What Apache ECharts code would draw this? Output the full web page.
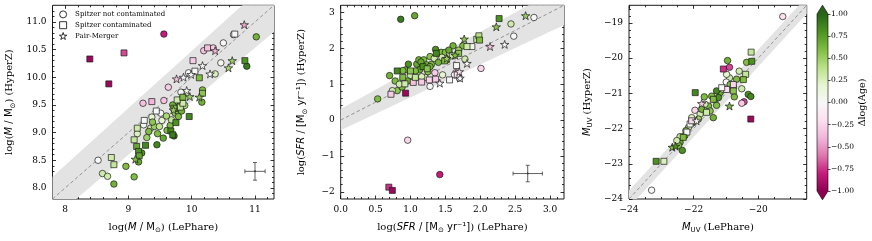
<!DOCTYPE html>
<html><head><meta charset="utf-8">
<script src="https://cdn.jsdelivr.net/npm/echarts@6/dist/echarts.min.js"></script>
<style>html,body{margin:0;padding:0;background:#fff}#c{width:872px;height:241px}</style>
</head><body><div id="c"></div>
<script>
// ---------------- data: [x, y, Δlog(Age)] ----------------
const massCircles = [
[8.52,8.50,0.0],[8.59,8.26,0.3],[8.67,8.21,0.3],[8.77,8.07,0.65],[8.96,8.39,0.6],[9.09,8.20,0.6],[9.16,8.47,0.7],[9.14,8.98,0.25],[9.23,9.53,-0.35],[9.24,9.14,0.05],[9.37,9.28,0.2],[9.35,9.08,0.3],[9.29,8.91,0.5],[9.21,8.63,0.8],[9.45,8.78,0.85],[9.46,8.98,0.6],[9.41,9.11,0.5],[9.49,9.11,0.35],[9.53,9.22,0.2],[9.51,9.35,0.0],[9.56,9.58,-0.35],[9.55,8.90,0.7],[9.61,9.04,0.6],[9.63,9.82,-0.3],[9.66,9.13,0.6],[9.68,9.23,0.35],[9.72,8.94,0.85],[9.74,9.35,0.55],[9.76,9.44,0.6],[9.79,9.29,0.6],[9.82,9.59,0.3],[9.83,9.73,0.0],[9.84,9.39,0.65],[9.89,9.49,0.4],[9.81,9.49,0.7],[9.95,10.08,0.0],[10.16,9.55,0.65],[10.17,9.77,0.6],[10.19,10.48,-0.35],[10.34,10.53,-0.3],[10.37,10.06,0.25],[10.46,10.26,0.05],[10.50,10.62,0.0],[10.66,10.77,0.0],[10.87,10.20,0.9],[11.02,10.73,0.65],[9.56,10.78,-0.8],[9.38,9.19,0.55],[9.32,9.02,0.6],[9.60,9.30,0.45],[9.70,9.50,0.65]
];
const massSquares = [
[8.39,10.33,-0.95],[8.93,10.44,-0.7],[8.69,9.88,-0.95],[8.73,8.55,0.3],[8.77,8.42,0.35],[9.14,9.08,0.3],[9.09,8.87,0.35],[9.13,8.75,0.7],[9.16,8.66,0.8],[9.17,8.58,0.7],[9.25,9.22,0.0],[9.27,8.77,0.85],[9.37,9.56,-0.4],[9.44,9.39,0.0],[9.67,9.03,0.85],[9.70,8.96,0.9],[9.75,9.18,0.8],[9.72,9.44,0.6],[9.82,9.46,0.35],[9.86,9.53,0.3],[9.77,9.59,0.3],[9.96,9.29,0.85],[10.02,10.30,-0.3],[10.05,10.11,0.0],[10.12,9.99,0.6],[10.17,9.71,0.55],[10.25,10.53,-0.35],[10.68,10.78,0.0],[10.84,10.30,0.8],[9.86,9.64,0.6]
];
const massStars = [
[9.11,8.52,0.6],[9.76,9.97,-0.35],[9.87,10.00,0.0],[9.99,10.05,0.0],[9.92,9.76,0.05],[9.97,9.65,0.5],[10.12,9.64,0.55],[10.17,10.21,0.0],[10.29,10.06,0.0],[10.37,10.48,-0.4],[10.58,10.17,0.45],[10.64,10.30,0.5],[10.83,10.95,-0.45],[9.71,9.41,0.5]
];
const sfrCircles = [
[0.53,0.59,0.6],[0.70,1.24,0.65],[0.78,1.09,0.6],[0.81,0.82,0.55],[0.74,0.82,0.3],[0.86,2.81,0.9],[0.88,0.92,0.6],[0.93,1.40,0.65],[0.96,-0.56,-0.25],[0.97,1.56,0.8],[1.02,1.15,0.5],[1.06,2.91,0.7],[1.09,1.56,0.7],[1.12,1.68,0.65],[1.13,1.40,0.7],[1.19,1.68,0.6],[1.20,1.49,0.65],[1.23,1.54,0.6],[1.21,1.19,0.3],[1.28,0.94,0.0],[1.28,1.77,0.55],[1.34,1.72,0.3],[1.36,1.97,0.8],[1.35,1.32,-0.3],[1.40,1.61,0.65],[1.42,-1.52,-0.8],[1.44,1.89,0.6],[1.46,1.26,0.2],[1.50,1.89,0.6],[1.52,1.68,0.35],[1.61,2.07,0.65],[1.65,1.32,-0.25],[1.63,1.26,0.0],[1.70,1.17,0.0],[1.75,2.07,0.6],[1.78,1.70,0.3],[2.01,1.44,-0.25],[2.44,2.68,0.3],[2.48,2.34,0.0],[2.77,2.86,0.0],[1.07,1.37,0.6],[0.89,1.38,0.6],[1.56,1.86,0.3],[1.69,1.95,0.5],[1.16,1.21,0.25],[0.96,1.09,0.65],[1.00,1.25,0.3],[1.15,1.62,0.7],[1.30,1.55,0.6],[1.25,1.35,0.55],[1.55,1.95,0.7],[1.45,1.75,0.3],[0.84,1.00,0.3],[1.28,1.49,0.65]
];
const sfrSquares = [
[0.72,0.72,-0.3],[0.69,-1.87,-0.75],[0.74,-1.96,-0.95],[0.93,0.75,-0.95],[0.81,1.37,0.85],[0.89,1.19,0.6],[0.92,1.01,0.3],[1.00,1.37,0.55],[1.04,1.05,-0.35],[1.07,1.19,0.35],[1.16,1.06,-0.3],[1.18,1.49,0.8],[1.24,1.43,0.55],[1.27,1.12,-0.25],[1.36,1.14,-0.3],[1.37,1.86,0.85],[1.49,1.65,0.6],[1.56,1.12,0.0],[1.66,1.52,0.0],[1.67,1.26,-0.2],[1.88,2.05,0.1],[1.81,2.05,0.3],[1.95,2.25,0.35],[1.98,2.35,0.4],[1.99,2.23,0.6],[2.27,2.83,0.8],[1.60,1.79,0.35],[1.69,1.86,0.55]
];
const sfrStars = [
[1.42,1.03,0.0],[1.71,1.17,0.0],[1.81,1.58,0.0],[1.77,2.26,0.55],[2.14,2.05,-0.35],[2.23,2.60,0.55],[2.35,2.11,0.0],[2.65,2.91,0.5],[1.52,1.72,0.5],[1.64,1.81,0.6],[1.70,1.35,-0.2]
];
const muvCircles = [
[-19.24,-18.82,-0.2],[-23.30,-23.75,0.0],[-20.95,-20.07,0.65],[-20.89,-20.26,-0.7],[-20.59,-20.37,0.3],[-20.36,-20.12,0.6],[-20.31,-21.03,0.8],[-20.23,-21.09,0.85],[-20.44,-21.24,-0.7],[-20.51,-21.28,-0.3],[-20.74,-21.10,0.6],[-20.51,-20.87,0.3],[-20.89,-20.56,0.3],[-20.99,-20.68,0.0],[-21.67,-21.10,0.6],[-21.96,-21.48,-0.25],[-21.39,-21.69,0.65],[-22.35,-22.62,0.8],[-22.42,-22.23,0.35],[-22.27,-22.20,0.6],[-22.42,-22.39,0.7],[-22.47,-22.48,0.6],[-22.16,-21.97,0.3],[-22.01,-21.83,0.6],[-21.80,-21.59,0.3],[-21.54,-21.36,0.6],[-21.49,-21.50,0.55],[-21.34,-21.17,0.3],[-21.18,-20.98,0.65],[-21.23,-21.12,0.8],[-21.08,-20.89,0.3],[-20.87,-20.75,0.6],[-20.77,-20.81,0.55],[-21.29,-20.93,0.85],[-21.44,-21.08,0.6],[-21.65,-21.31,0.3],[-21.29,-21.34,0.6],[-21.75,-21.45,0.65],[-22.06,-21.69,0.25],[-21.85,-21.73,0.5],[-22.24,-22.06,0.55],[-22.52,-22.34,0.3],[-20.67,-20.60,0.6],[-20.98,-20.46,0.2]
];
const muvSquares = [
[-23.16,-22.93,0.8],[-22.92,-22.93,0.25],[-20.22,-19.83,0.35],[-20.20,-20.09,0.8],[-21.08,-20.31,-0.75],[-20.39,-20.46,0.35],[-20.46,-20.61,0.6],[-20.23,-21.73,-0.95],[-21.95,-20.98,0.85],[-22.11,-21.87,0.0],[-22.21,-22.10,0.0],[-22.06,-21.78,-0.25],[-20.98,-20.89,-0.2],[-21.13,-20.84,0.0],[-21.39,-21.17,0.6],[-21.60,-21.54,0.3],[-20.77,-20.93,0.55],[-20.77,-20.75,-0.25],[-22.32,-22.25,0.6]
];
const muvStars = [[-22.66,-22.53,0.6],[-22.56,-22.50,0.8],[-21.75,-21.29,-0.3],[-20.89,-21.36,0.6],[-21.91,-21.78,0.0]];

// one-to-one lines, scatter bands [x, lower, upper], typical error bars [x, y, xerr, yerr]
const massLine = [[7.8,7.8],[11.3,11.3]];
const sfrLine = [[0,0],[3.2,3.2]];
const muvLine = [[-24,-24],[-18.5,-18.5]];
const massBand = [[7.8,7.44,8.20],[11.3,10.82,11.82]];
const sfrBand = [[0,-0.28,0.31],[3.2,2.65,3.75]];
const muvBand = [[-24,-24.24,-23.76],[-18.5,-18.74,-18.26]];
const massErr = [[11.0,8.30,0.16,0.16]];
const sfrErr = [[2.68,-1.49,0.21,0.23]];

// axis ranges & ticks
const massRange = [7.8, 11.3];
const sfrXRange = [0, 3.2], sfrYRange = [-2.2, 3.2];
const muvXRange = [-24, -18.5], muvYRange = [-24, -18.5];
const massXTicks = [8,9,10,11], massXLabels = ['8','9','10','11'];
const massYTicks = [8.0,8.5,9.0,9.5,10.0,10.5,11.0], massYLabels = ['8.0','8.5','9.0','9.5','10.0','10.5','11.0'];
const sfrXTicks = [0,0.5,1,1.5,2,2.5,3], sfrXLabels = ['0.0','0.5','1.0','1.5','2.0','2.5','3.0'];
const sfrYTicks = [-2,-1,0,1,2,3], sfrYLabels = ['−2','−1','0','1','2','3'];
const muvXTicks = [-24,-22,-20], muvXLabels = ['−24','−22','−20'];
const muvYTicks = [-24,-23,-22,-21,-20,-19], muvYLabels = ['−24','−23','−22','−21','−20','−19'];
const cbTicks = [-1,-0.75,-0.5,-0.25,0,0.25,0.5,0.75,1];
const cbLabels = ['−1.00','−0.75','−0.50','−0.25','0.00','0.25','0.50','0.75','1.00'];
const cbRange = [[0,-1,1]];

const PIYG = ['#8e0152','#c51b7d','#de77ae','#f1b6da','#fde0ef','#f7f7f7','#e6f5d0','#b8e186','#7fbc41','#4d9221','#276419'];
const SERIF = 'DejaVu Serif', SANS = 'DejaVu Sans';
const STAR = 'path://M50,0 L61.8,35.1 L98.8,35.1 L68.8,56.8 L80.2,91.9 L50,70.2 L19.8,91.9 L31.2,56.8 L1.2,35.1 L38.2,35.1 Z';
const SQUARE = 'path://M0,0 L10,0 L10,10 L0,10 Z';

function minorTicks(range, step, majors) {
  const out = [];
  for (let k = Math.ceil(range[0]/step - 1e-9); k*step <= range[1] + 1e-9; k++) {
    const v = Math.round(k*step*1000)/1000;
    if (v > range[0] + 1e-9 && v < range[1] - 1e-9 && !majors.some(m => Math.abs(m - v) < 1e-6)) out.push(v);
  }
  return out;
}

const rich = {
  s: {fontFamily: SERIF, fontSize: 10, color: '#000', lineHeight: 14},
  i: {fontFamily: SANS, fontStyle: 'italic', fontSize: 10, color: '#000', lineHeight: 14},
  r: {fontFamily: SANS, fontSize: 10, color: '#000', lineHeight: 14},
  b: {fontFamily: SANS, fontSize: 7, color: '#000', lineHeight: 7, verticalAlign: 'bottom'}
};

const grids = [
  {left: 52.5, top: 5.3, width: 221.5, height: 193.7},
  {left: 340.7, top: 5.3, width: 223.3, height: 193.7},
  {left: 629, top: 5.3, width: 177.7, height: 193.7}
].map(g => Object.assign(g, {show: true, borderColor: '#000', borderWidth: 0.9, backgroundColor: 'transparent', containLabel: false, outerBoundsMode: 'none'}));
grids.push({left: 817, top: 14, width: 11, height: 177, show: false, containLabel: false, outerBoundsMode: 'none'});

const xAxes = [], yAxes = [];
function addAxes(list, dim, gi, range, majors, labels, minorStep, name, nameGap) {
  const minors = minorTicks(range, minorStep, majors);
  const base = {gridIndex: gi, type: 'value', min: range[0], max: range[1], splitLine: {show: false}, axisLine: {show: false, onZero: false}, silent: true};
  const tick = (vals, len) => ({show: true, inside: true, length: len, customValues: vals, lineStyle: {color: '#000', width: 0.8}});
  const posA = dim === 'x' ? 'bottom' : 'left', posB = dim === 'x' ? 'top' : 'right';
  list.push(Object.assign({}, base, {
    position: posA, axisTick: tick(majors, 3.5),
    axisLabel: {show: true, customValues: majors, color: '#000', fontFamily: SERIF, fontSize: 9, margin: 6,
      formatter: v => { const i = majors.findIndex(m => Math.abs(m - v) < 1e-6); return i < 0 ? '' : labels[i]; }},
    name: name, nameLocation: 'middle', nameGap: nameGap, nameRotate: dim === 'y' ? 90 : 0,
    nameTextStyle: {rich: rich, color: '#000'}
  }));
  list.push(Object.assign({}, base, {position: posA, axisTick: tick(minors, 2), axisLabel: {show: false}}));
  list.push(Object.assign({}, base, {position: posB, axisTick: tick(majors, 3.5), axisLabel: {show: false}}));
  list.push(Object.assign({}, base, {position: posB, axisTick: tick(minors, 2), axisLabel: {show: false}}));
}
addAxes(xAxes, 'x', 0, massRange, massXTicks, massXLabels, 0.2, '{s|log(}{i|M}{r| / M}{b|⊙}{s|) (LePhare)}', 21);
addAxes(yAxes, 'y', 0, massRange, massYTicks, massYLabels, 0.1, '{s|log(}{i|M}{r| / M}{b|⊙}{s|) (HyperZ)}', 36);
addAxes(xAxes, 'x', 1, sfrXRange, sfrXTicks, sfrXLabels, 0.1, '{s|log(}{i|SFR}{r| / [M}{b|⊙}{r| yr⁻¹]}{s|) (LePhare)}', 21);
addAxes(yAxes, 'y', 1, sfrYRange, sfrYTicks, sfrYLabels, 0.2, '{s|log(}{i|SFR}{r| / [M}{b|⊙}{r| yr⁻¹]}{s|) (HyperZ)}', 32);
addAxes(xAxes, 'x', 2, muvXRange, muvXTicks, muvXLabels, 0.5, '{i|M}{b|UV}{s| (LePhare)}', 21);
addAxes(yAxes, 'y', 2, muvYRange, muvYTicks, muvYLabels, 0.2, '{i|M}{b|UV}{s| (HyperZ)}', 35);
// colorbar axes
xAxes.push({gridIndex: 3, type: 'value', min: 0, max: 1, show: false});
yAxes.push({gridIndex: 3, type: 'value', min: -1, max: 1, interval: 0.25, position: 'right',
  axisLine: {show: false, onZero: false}, splitLine: {show: false},
  axisTick: {show: true, inside: false, length: 2.5, lineStyle: {color: '#000', width: 0.7}},
  axisLabel: {color: '#000', fontFamily: SERIF, fontSize: 7.5, margin: 3,
    formatter: v => { const i = cbTicks.findIndex(m => Math.abs(m - v) < 1e-6); return i < 0 ? '' : cbLabels[i]; }},
  name: 'Δlog(Age)', nameLocation: 'middle', nameRotate: 90, nameGap: 27,
  nameTextStyle: {fontFamily: SERIF, fontSize: 9.5, color: '#000'}});

const series = [], scatterIdx = [];
function bandSeries(ai, band) {
  return {type: 'custom', xAxisIndex: ai, yAxisIndex: ai, clip: true, silent: true, z: 1, data: band,
    encode: {x: 0, y: [1, 2]},
    renderItem: (params, api) => {
      const i = params.dataIndex;
      if (i >= band.length - 1) return null;
      const a = band[i], b = band[i + 1];
      const pts = [api.coord([a[0], a[1]]), api.coord([b[0], b[1]]), api.coord([b[0], b[2]]), api.coord([a[0], a[2]])];
      return {type: 'polygon', shape: {points: pts}, style: {fill: '#e3e3e3'}};
    }};
}
function lineSeries(ai, data) {
  return {type: 'line', xAxisIndex: ai, yAxisIndex: ai, data: data, symbol: 'none', silent: true, z: 2,
    lineStyle: {color: '#8a8a8a', width: 0.9, type: [3.5, 2.5]}, animation: false};
}
function errSeries(ai, data) {
  return {type: 'custom', xAxisIndex: ai, yAxisIndex: ai, silent: true, z: 4, data: data,
    renderItem: (params, api) => {
      const d = data[params.dataIndex];
      const c = api.coord([d[0], d[1]]);
      const l = api.coord([d[0] - d[2], d[1]]), r = api.coord([d[0] + d[2], d[1]]);
      const t = api.coord([d[0], d[1] + d[3]]), bt = api.coord([d[0], d[1] - d[3]]);
      const st = {stroke: '#3a3a3a', lineWidth: 0.8};
      const cap = 2;
      return {type: 'group', children: [
        {type: 'line', shape: {x1: l[0], y1: l[1], x2: r[0], y2: r[1]}, style: st},
        {type: 'line', shape: {x1: t[0], y1: t[1], x2: bt[0], y2: bt[1]}, style: st},
        {type: 'line', shape: {x1: l[0], y1: l[1] - cap, x2: l[0], y2: l[1] + cap}, style: st},
        {type: 'line', shape: {x1: r[0], y1: r[1] - cap, x2: r[0], y2: r[1] + cap}, style: st},
        {type: 'line', shape: {x1: t[0] - cap, y1: t[1], x2: t[0] + cap, y2: t[1]}, style: st},
        {type: 'line', shape: {x1: bt[0] - cap, y1: bt[1], x2: bt[0] + cap, y2: bt[1]}, style: st},
        {type: 'circle', shape: {cx: c[0], cy: c[1], r: 1}, style: {fill: '#3a3a3a'}}
      ]};
    }};
}
function scat(ai, name, data, symbol, size) {
  scatterIdx.push(series.length);
  return {type: 'scatter', name: name, xAxisIndex: ai, yAxisIndex: ai, data: data, symbol: symbol, symbolSize: size,
    symbolKeepAspect: true, z: 3, silent: true,
    itemStyle: {borderColor: '#1a1a1a', borderWidth: 0.7, opacity: 1}};
}
const N1 = 'Spitzer not contaminated', N2 = 'Spitzer contaminated', N3 = 'Pair-Merger';
const panels = [
  {ai: 0, band: massBand, line: massLine, err: massErr, c: massCircles, s: massSquares, st: massStars},
  {ai: 4, band: sfrBand, line: sfrLine, err: sfrErr, c: sfrCircles, s: sfrSquares, st: sfrStars},
  {ai: 8, band: muvBand, line: muvLine, err: null, c: muvCircles, s: muvSquares, st: muvStars}
];
panels.forEach(p => {
  series.push(bandSeries(p.ai, p.band));
  series.push(lineSeries(p.ai, p.line));
  if (p.err) series.push(errSeries(p.ai, p.err));
  series.push(scat(p.ai, N1, p.c, 'circle', 6.5));
  series.push(scat(p.ai, N2, p.s, SQUARE, 6));
  series.push(scat(p.ai, N3, p.st, STAR, 8.5));
});
// colorbar
series.push({type: 'custom', xAxisIndex: 12, yAxisIndex: 12, clip: false, silent: true, data: cbRange,
  renderItem: (params, api) => {
    const d = cbRange[params.dataIndex];
    const tl = api.coord([0, d[2]]), br = api.coord([1, d[1]]);
    const x0 = tl[0], x1 = br[0], y0 = tl[1], y1 = br[1];
    const ext = 0.05 * (y1 - y0), xm = (x0 + x1) / 2;
    const stops = PIYG.slice().reverse().map((c, i) => ({offset: i / (PIYG.length - 1), color: c}));
    return {type: 'group', children: [
      {type: 'rect', shape: {x: x0, y: y0, width: x1 - x0, height: y1 - y0}, style: {fill: new echarts.graphic.LinearGradient(0, 0, 0, 1, stops)}},
      {type: 'polygon', shape: {points: [[x0, y0], [xm, y0 - ext], [x1, y0]]}, style: {fill: PIYG[PIYG.length - 1]}},
      {type: 'polygon', shape: {points: [[x0, y1], [xm, y1 + ext], [x1, y1]]}, style: {fill: PIYG[0]}},
      {type: 'polygon', shape: {points: [[x0, y0], [xm, y0 - ext], [x1, y0], [x1, y1], [xm, y1 + ext], [x0, y1]]}, style: {fill: 'none', stroke: '#000', lineWidth: 0.6}}
    ]};
  }});

const chart = echarts.init(document.getElementById('c'), null, {renderer: 'canvas'});
const legendStyle = {color: '#fff', borderColor: '#000', borderWidth: 0.8};
chart.setOption({
  animation: false,
  grid: grids,
  xAxis: xAxes,
  yAxis: yAxes,
  visualMap: {type: 'continuous', show: false, min: -1, max: 1, dimension: 2, seriesIndex: scatterIdx, inRange: {color: PIYG}},
  legend: {show: true, orient: 'vertical', left: 59, top: 10.5, padding: 0, itemWidth: 14, itemHeight: 7, itemGap: 3,
    selectedMode: false, symbolKeepAspect: true, textStyle: {fontFamily: SERIF, fontSize: 7, color: '#000'},
    data: [{name: N1, icon: 'circle', itemStyle: legendStyle}, {name: N2, icon: SQUARE, itemStyle: legendStyle}, {name: N3, icon: STAR, itemStyle: legendStyle}]},
  series: series
});
</script>
</body></html>
